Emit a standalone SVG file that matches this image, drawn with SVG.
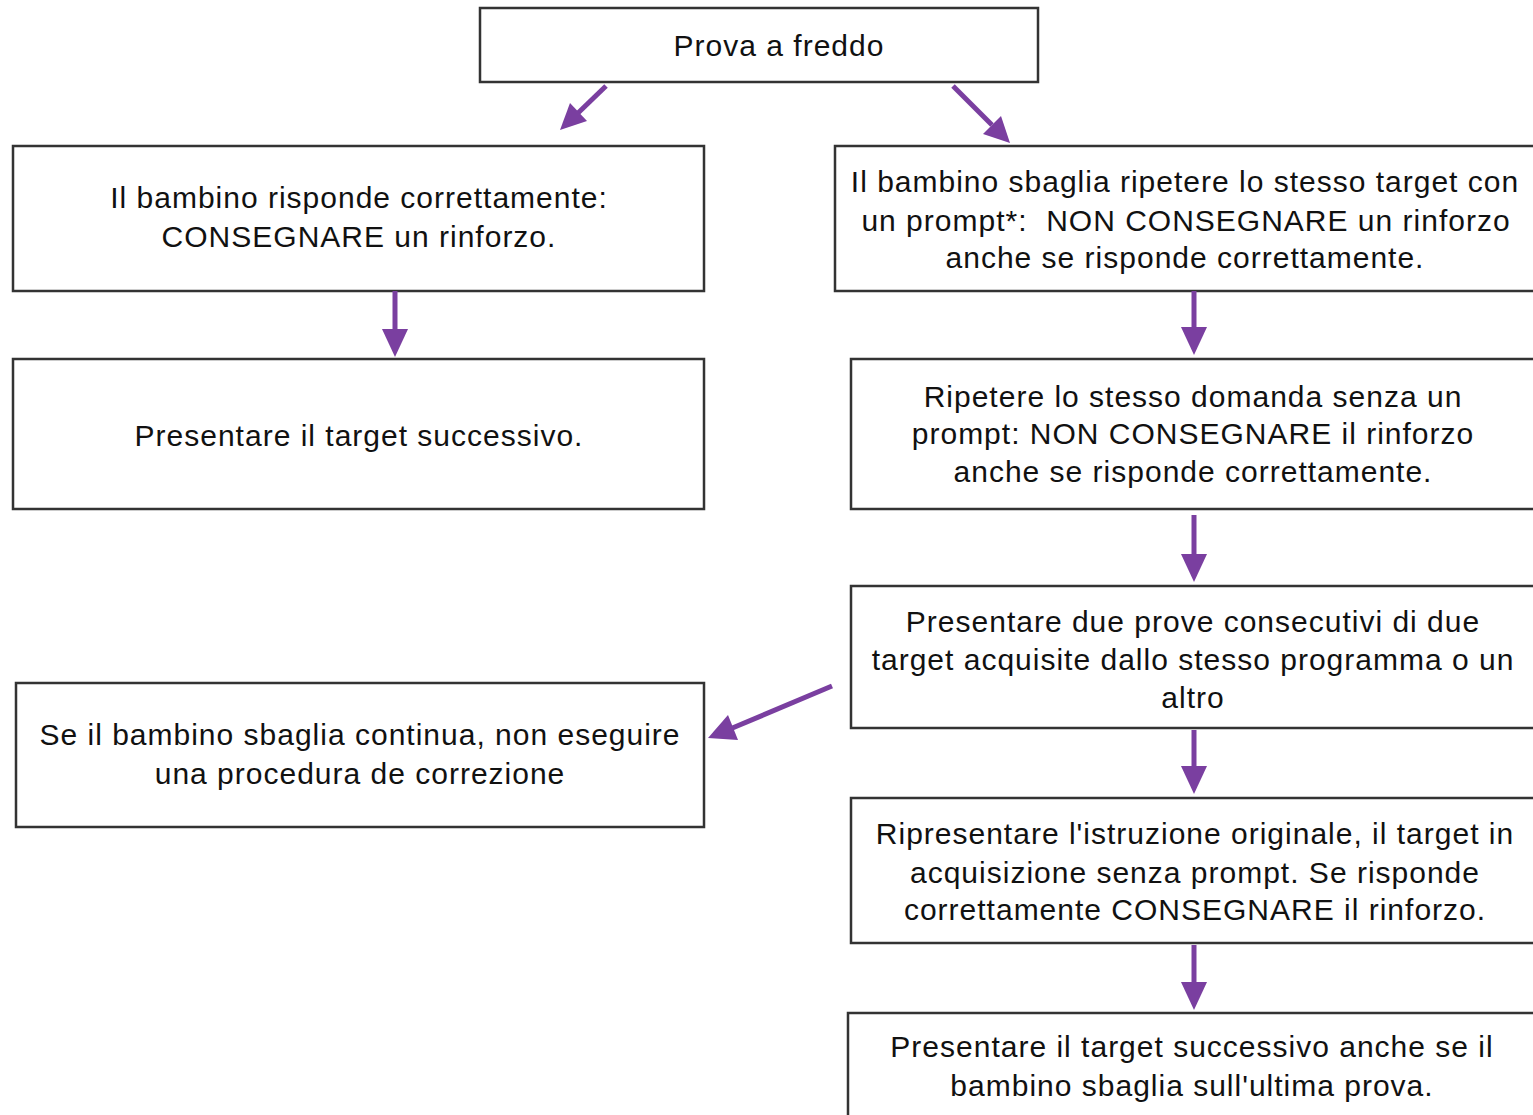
<svg xmlns="http://www.w3.org/2000/svg" width="1533" height="1115" viewBox="0 0 1533 1115">
<style>
.box{fill:#fff;stroke:#333;stroke-width:2.5}
.t{font-family:"Liberation Sans",Arial,sans-serif;font-size:30px;letter-spacing:1px;fill:#111;text-anchor:middle}
.c{stroke:#7a3fa0;stroke-width:5;fill:none}
</style>
<rect width="1533" height="1115" fill="#fff"/>
<g id="n1"><rect class="box" x="480" y="8" width="558" height="74"/><text class="t" x="779" y="56">Prova a freddo</text></g>
<g id="n2"><rect class="box" x="13" y="146" width="691" height="145"/><text class="t" x="359" y="208">Il bambino risponde correttamente:</text><text class="t" x="359" y="247">CONSEGNARE un rinforzo.</text></g>
<g id="n3"><rect class="box" x="835" y="146" width="710" height="145"/><text class="t" x="1185" y="192">Il bambino sbaglia ripetere lo stesso target con</text><text class="t" x="1186" y="231" xml:space="preserve">un prompt*:  NON CONSEGNARE un rinforzo</text><text class="t" x="1185" y="268">anche se risponde correttamente.</text></g>
<g id="n4"><rect class="box" x="13" y="359" width="691" height="150"/><text class="t" x="359" y="446">Presentare il target successivo.</text></g>
<g id="n5"><rect class="box" x="851" y="359" width="694" height="150"/><text class="t" x="1193" y="407">Ripetere lo stesso domanda senza un</text><text class="t" x="1193" y="444">prompt: NON CONSEGNARE il rinforzo</text><text class="t" x="1193" y="482">anche se risponde correttamente.</text></g>
<g id="n6"><rect class="box" x="851" y="586" width="694" height="142"/><text class="t" x="1193" y="632">Presentare due prove consecutivi di due</text><text class="t" x="1193" y="670">target acquisite dallo stesso programma o un</text><text class="t" x="1193" y="708">altro</text></g>
<g id="n7"><rect class="box" x="16" y="683" width="688" height="144"/><text class="t" x="360" y="745">Se il bambino sbaglia continua, non eseguire</text><text class="t" x="360" y="784">una procedura de correzione</text></g>
<g id="n8"><rect class="box" x="851" y="798" width="694" height="145"/><text class="t" x="1195" y="844">Ripresentare l'istruzione originale, il target in</text><text class="t" x="1195" y="883">acquisizione senza prompt. Se risponde</text><text class="t" x="1195" y="920">correttamente CONSEGNARE il rinforzo.</text></g>
<g id="n9"><rect class="box" x="848" y="1013" width="697" height="110"/><text class="t" x="1192" y="1057">Presentare il target successivo anche se il</text><text class="t" x="1192" y="1096">bambino sbaglia sull'ultima prova.</text></g>
<g id="connectors" fill="#7a3fa0">
<line class="c" x1="606" y1="86" x2="578" y2="113"/><polygon points="560,130 570,103 587,121"/>
<line class="c" x1="953" y1="86" x2="992" y2="125"/><polygon points="1010,143 983,134 1001,116"/>
<line class="c" x1="395" y1="291" x2="395" y2="333"/><polygon points="395,357 382,329 408,329"/>
<line class="c" x1="1194" y1="291" x2="1194" y2="331"/><polygon points="1194,355 1181,327 1207,327"/>
<line class="c" x1="1194" y1="515" x2="1194" y2="558"/><polygon points="1194,582 1181,554 1207,554"/>
<line class="c" x1="1194" y1="730" x2="1194" y2="770"/><polygon points="1194,794 1181,766 1207,766"/>
<line class="c" x1="1194" y1="945" x2="1194" y2="986"/><polygon points="1194,1010 1181,982 1207,982"/>
<line class="c" x1="832" y1="686" x2="730" y2="729"/><polygon points="708,738 728,715 738,740"/>
</g>
</svg>
